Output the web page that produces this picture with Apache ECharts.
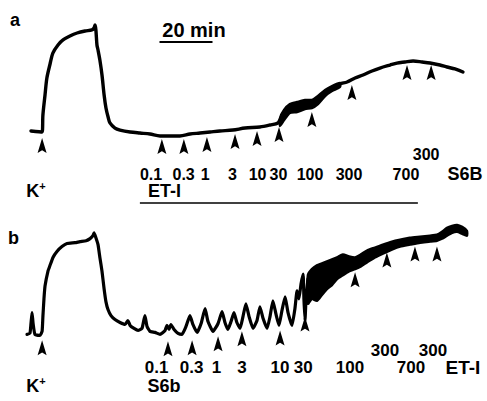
<!DOCTYPE html>
<html>
<head>
<meta charset="utf-8">
<script src="https://cdn.jsdelivr.net/npm/echarts@6/dist/echarts.min.js"></script>
<style>
  html, body { margin: 0; padding: 0; background: #fff; }
  #chart { width: 487px; height: 401px; }
</style>
</head>
<body>
<div id="chart"></div>
<script>
// Isometric tension records. Time in minutes from the start of each record,
// tension as % of the K+ contraction (0 = resting baseline).

// ---- record a: ET-I cumulative doses, then S6B ----
const traceA = [
  [1.5,1.0],[5.7,0],[6.0,16.3],[6.8,35.6],[7.5,51.9],[8.7,65.4],[9.8,76.0],[11.7,83.7],
  [13.6,88.5],[16.2,92.3],[18.9,95.2],[21.9,97.1],[24.5,98.1],[25.3,100],[25.7,102.9],
  [26.0,98.1],[26.4,83.7],[26.8,78.8],[27.5,69.2],[28.3,54.8],[29.1,35.6],[29.8,23.1],
  [30.6,14.4],[31.3,8.7],[33.2,3.8],[35.1,1.9],[38.9,0],[42.6,-1.0],[46.4,-1.9],
  [50.2,-3.8],[54.0,-3.8],[57.7,-3.8],[61.5,-1.9],[65.3,-1.0],[69.1,0],[72.8,1.0],
  [77.7,1.9],[82.3,3.8],[87.9,4.8],[91.7,6.7],[94.7,8.7],[95.8,13.5],[97.0,19.2],
  [99.2,23.1],[103.0,26.0],[106.8,26.9],[108.7,28.8],[110.6,33.7],[112.5,38.5],
  [115.1,42.3],[118.1,46.2],[120.8,48.1],[123.8,51.9],[126.8,54.8],[130.2,58.7],
  [133.2,61.5],[137.0,64.4],[139.6,66.3],[142.6,67.3],[145.7,68.3],[149.1,67.3],
  [152.1,66.3],[155.8,64.4],[158.5,62.5],[161.5,60.6],[164.5,57.7]
];
// [time, upper edge, lower edge] of the noisy stretch of the record
const bandA = [
  [95.5,13.5,5.8],[97.0,21.2,11.5],[99.2,26.9,18.3],[101.9,28.8,19.2],[104.9,30.8,22.1],
  [107.5,30.8,23.1],[109.8,34.6,26.9],[112.5,40.4,34.6],[115.1,44.2,39.4],[118.1,47.1,43.3]
];
const arrowTimesA = [5.7, 50.9, 59.2, 67.9, 78.5, 86.8, 95.1, 107.5, 122.6, 143.4, 152.5];
const arrowTipsA  = [-5.8, -6.7, -6.7, -4.8, -1.9, 1.0, 4.8, 19.2, 45.2, 64.4, 64.4];
const dosesA      = ['0.1', '0.3', '1', '3', '10', '30', '100', '300', '700'];
const doseTimesA  = [46.8, 59.1, 67.2, 77.5, 87.0, 94.9, 106.8, 121.5, 143.0];
const lastDoseA   = ['300', 150.6];
const agentsA     = [['K⁺', 3.4], ['ET-I', 51.9], ['S6B', 165.3]];
const etPeriodA   = [42.6, 147.5];
const scaleBar    = [50, 70];

// ---- record b: S6b cumulative doses, then ET-I ----
const traceB = [
  [0,0],[1.1,1.0],[1.5,10.6],[1.9,21.2],[2.3,10.6],[3.0,0],[4.9,-1.0],[5.7,2.9],
  [6.0,17.3],[6.4,34.6],[6.8,47.1],[7.9,61.5],[8.7,67.3],[9.8,75.0],[11.3,80.8],
  [13.2,85.6],[15.1,88.5],[18.1,89.4],[20.0,90.4],[22.3,91.3],[23.8,93.3],[24.9,96.2],
  [25.3,99.0],[26.0,94.2],[26.8,87.5],[27.5,75.0],[28.3,61.5],[29.1,44.2],[29.8,31.7],
  [30.6,24.0],[31.7,18.3],[33.2,14.4],[35.1,11.5],[37.0,9.6],[38.1,13.5],[38.9,8.7],
  [40.4,5.8],[41.9,3.8],[43.4,5.8],[44.5,18.3],[45.3,7.7],[46.4,2.9],[48.3,1.9],
  [50.2,0],[52.1,3.8],[52.8,8.7],[53.6,4.8],[54.3,9.6],[55.5,4.8],[57.0,1.0],[58.5,0],
  [60.0,7.7],[61.5,18.3],[62.6,9.6],[64.2,1.9],[65.7,10.6],[67.2,25.0],[68.3,12.5],
  [70.2,2.9],[72.1,10.6],[73.6,22.1],[74.7,11.5],[75.8,4.8],[77.0,12.5],[78.1,21.2],
  [79.2,11.5],[80.4,5.8],[81.5,17.3],[82.6,29.8],[83.8,17.3],[85.3,5.8],[86.8,13.5],
  [87.9,26.9],[89.1,15.4],[90.6,5.8],[91.7,17.3],[92.8,32.7],[94.0,19.2],[95.1,8.7],
  [96.2,23.1],[97.4,36.5],[98.5,21.2],[100.0,8.7],[101.1,25.0],[101.9,42.3],[102.6,34.6],
  [103.4,49.0],[104.2,58.7],[104.5,34.6],[104.9,13.5],[105.3,34.6],[106.0,53.8]
];
const bandB = [
  [106.0,57.7,29.8],[107.5,63.5,34.6],[109.4,67.3,32.7],[111.3,69.2,38.5],[113.2,71.2,44.2],
  [115.1,73.1,48.1],[117.0,75.0,53.8],[119.2,77.9,57.7],[121.5,76.0,61.5],[123.8,75.0,63.5],
  [126.0,77.9,66.3],[128.3,81.7,70.2],[131.3,84.6,75.0],[134.3,87.5,78.8],[137.7,90.4,82.7],
  [140.8,92.3,85.6],[144.5,94.2,87.5],[148.3,95.2,89.4],[152.1,96.2,90.4],[154.7,97.1,91.3],
  [156.6,100.0,93.3],[158.5,103.8,96.2],[160.4,105.8,99.0],[162.3,106.7,100.0],
  [164.2,104.8,98.1],[166.0,101.0,96.2]
];
const arrowTimesB = [5.7, 53.2, 62.3, 72.1, 81.1, 95.5, 104.9, 123.8, 135.8, 146.4, 154.7];
const arrowTipsB  = [-5.8, -6.7, -5.8, -1.9, 2.9, 3.8, 17.3, 60.6, 79.8, 85.6, 85.6];
const dosesB      = ['0.1', '0.3', '1', '3', '10', '30', '100', '700'];
const doseTimesB  = [48.9, 62.1, 71.5, 81.1, 95.5, 104.2, 121.9, 144.9];
const upperDosesB = [['300', 135.1], ['300', 153.2]];
const agentsB     = [['K⁺', 3.4], ['S6b', 51.7]];
const lastAgentB  = ['ET-I', 164.5];

const BLACK = '#000';
const FONT = '"Liberation Sans", Arial, Helvetica, sans-serif';

// label rows, in tension units of each panel
const rowsA = { dose: -40.4, upper: -21.2, agent: -56.7, bar: -68.3 };
const rowsB = { dose: -32.7, upper: -15.4, agent: -50.0 };

function traceSeries(idx, data, width, smooth) {
  return {
    type: 'line', xAxisIndex: idx, yAxisIndex: idx, data: data,
    showSymbol: false, smooth: smooth, silent: true, clip: false,
    lineStyle: { color: BLACK, width: width, join: 'round', cap: 'round', opacity: 1 }
  };
}

function bandSeries(idx, band) {
  return {
    type: 'custom', xAxisIndex: idx, yAxisIndex: idx, data: band, clip: false, silent: true,
    encode: { x: 0, y: 1 },
    renderItem: function (params, api) {
      if (params.dataIndex !== 0) return null;
      const upper = band.map(d => api.coord([d[0], d[1]]));
      const lower = band.slice().reverse().map(d => api.coord([d[0], d[2]]));
      return {
        type: 'polygon',
        shape: { points: upper.concat(lower), smooth: 0.2 },
        style: { fill: BLACK, stroke: BLACK, lineWidth: 2.5, lineJoin: 'round' }
      };
    }
  };
}

function arrowSeries(idx, times, tips) {
  return {
    type: 'scatter', xAxisIndex: idx, yAxisIndex: idx, silent: true, clip: false,
    data: times.map((t, i) => [t, tips[i]]),
    symbol: 'path://M5 0 L10 16 L5 13 L0 16 Z',
    symbolSize: [9, 15], symbolOffset: [0, '50%'],
    itemStyle: { color: BLACK, opacity: 1 }, z: 5
  };
}

function textSeries(idx, items, size) {
  return {
    type: 'scatter', xAxisIndex: idx, yAxisIndex: idx, silent: true, clip: false,
    data: items, symbolSize: 1, itemStyle: { color: 'transparent', opacity: 1 },
    label: {
      show: true, position: 'inside', color: BLACK, opacity: 1,
      fontFamily: FONT, fontWeight: 'bold', fontSize: size,
      formatter: p => p.data[2].startsWith('K⁺') ? '{k|K}{s|+}' : p.data[2],
      rich: {
        k: { fontFamily: FONT, fontWeight: 'bold', fontSize: 18, color: BLACK },
        s: { fontFamily: FONT, fontWeight: 'bold', fontSize: 11, color: BLACK, padding: [0, 0, 9, 0] }
      }
    }
  };
}

function barSeries(idx, span, level, width) {
  return {
    type: 'line', xAxisIndex: idx, yAxisIndex: idx, silent: true, clip: false,
    data: [[span[0], level], [span[1], level]], showSymbol: false,
    lineStyle: { color: BLACK, width: width, opacity: 1 }
  };
}

const doseItemsA = dosesA.map((d, i) => [doseTimesA[i], rowsA.dose, d]);
doseItemsA.push([lastDoseA[1], rowsA.upper, lastDoseA[0]]);
const agentItemsA = [
  [agentsA[0][1], rowsA.agent, agentsA[0][0]],
  [agentsA[1][1], rowsA.agent, agentsA[1][0]],
  [agentsA[2][1], rowsA.dose, agentsA[2][0]]
];
const doseItemsB = dosesB.map((d, i) => [doseTimesB[i], rowsB.dose, d]);
upperDosesB.forEach(u => doseItemsB.push([u[1], rowsB.upper, u[0]]));
const agentItemsB = agentsB.map(a => [a[1], rowsB.agent, a[0]]);
const lastAgentItemB = [[lastAgentB[1], rowsB.dose, lastAgentB[0]]];

const chart = echarts.init(document.getElementById('chart'), null, { renderer: 'svg' });
chart.setOption({
  animation: false,
  backgroundColor: '#fff',
  grid: [
    { left: 27, top: 2, width: 450.5, height: 208 },
    { left: 27, top: 216.4, width: 450.5, height: 187.2 }
  ],
  xAxis: [
    { type: 'value', gridIndex: 0, min: 0, max: 170, show: false },
    { type: 'value', gridIndex: 1, min: 0, max: 170, show: false }
  ],
  yAxis: [
    { type: 'value', gridIndex: 0, min: -75, max: 125, show: false },
    { type: 'value', gridIndex: 1, min: -65, max: 115, show: false }
  ],
  graphic: [
    { type: 'text', left: 10, top: 11, style: { text: 'a', font: 'bold 18px ' + FONT, fill: BLACK } },
    { type: 'text', left: 8, top: 229, style: { text: 'b', font: 'bold 18px ' + FONT, fill: BLACK } }
  ],
  series: [
    traceSeries(0, traceA, 3.4, 0.3),
    bandSeries(0, bandA),
    arrowSeries(0, arrowTimesA, arrowTipsA),
    textSeries(0, doseItemsA, 16),
    textSeries(0, agentItemsA, 18),
    barSeries(0, etPeriodA, rowsA.bar, 1.5),
    barSeries(0, scaleBar, 86.5, 2),
    textSeries(0, [[63.0, 98.1, '20 min']], 20),

    traceSeries(1, traceB, 3.2, 0.15),
    bandSeries(1, bandB),
    arrowSeries(1, arrowTimesB, arrowTipsB),
    textSeries(1, doseItemsB, 17),
    textSeries(1, agentItemsB, 18),
    textSeries(1, lastAgentItemB, 19)
  ]
});
</script>
</body>
</html>
